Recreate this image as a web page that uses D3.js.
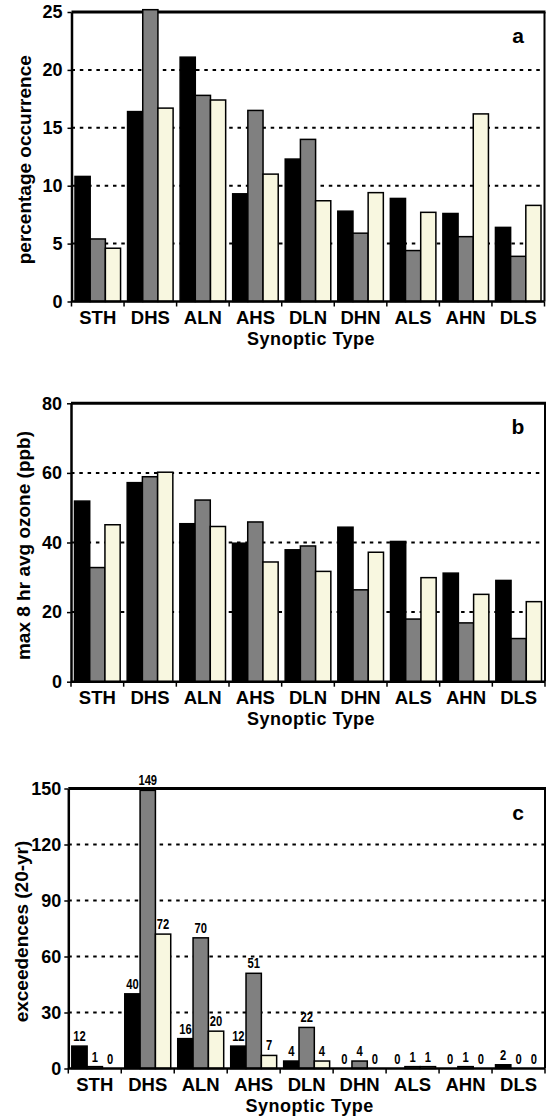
<!DOCTYPE html>
<html>
<head>
<meta charset="utf-8">
<script src="https://cdn.jsdelivr.net/npm/d3@7"></script>
<style>
  body { margin: 0; background: #fff; }
  svg text { font-family: "Liberation Sans", Arial, sans-serif; font-weight: bold; fill: #000; }
  .vlabel { font-size: 14px; }
</style>
</head>
<body>
<svg id="chart" width="547" height="1118"></svg>
<script>
const categories = ["STH", "DHS", "ALN", "AHS", "DLN", "DHN", "ALS", "AHN", "DLS"];

// panel a - percentage occurrence
const occBlack = [10.8, 16.4, 21.1, 9.3, 12.3, 7.8, 8.9, 7.6, 6.4];
const occGray = [5.4, 25.2, 17.8, 16.5, 14.0, 5.9, 4.4, 5.6, 3.9];
const occCream = [4.6, 16.7, 17.4, 11.0, 8.7, 9.4, 7.7, 16.2, 8.3];
const occTicks = [0, 5, 10, 15, 20, 25];

// panel b - max 8 hr avg ozone
const ozoneBlack = [51.9, 57.2, 45.4, 39.8, 37.9, 44.4, 40.3, 31.2, 29.1];
const ozoneGray = [32.8, 58.9, 52.2, 45.9, 39.0, 26.4, 18.0, 16.9, 12.4];
const ozoneCream = [45.1, 60.2, 44.6, 34.4, 31.7, 37.2, 29.9, 25.1, 23.0];
const ozoneTicks = [0, 20, 40, 60, 80];

// panel c - exceedences
const excBlack = [12, 40, 16, 12, 4, 0, 0, 0, 2];
const excGray = [1, 149, 70, 51, 22, 4, 1, 1, 0];
const excCream = [0, 72, 20, 7, 4, 0, 1, 0, 0];
const excTicks = [0, 30, 60, 90, 120, 150];

const barColors = ["#000000", "#808080", "#f8f7e0"];

const panels = [
  { letter: "a", title: "percentage occurrence", series: [occBlack, occGray, occCream], ticks: occTicks,
    top: 12, bottom: 301.5, left: 71.5, right: 544.5, tickGap: 5, titleX: 31, values: false },
  { letter: "b", title: "max 8 hr avg ozone (ppb)", series: [ozoneBlack, ozoneGray, ozoneCream], ticks: ozoneTicks,
    top: 403.3, bottom: 681.7, left: 71, right: 545, tickGap: 5, titleX: 30, values: false },
  { letter: "c", title: "exceedences (20-yr)", series: [excBlack, excGray, excCream], ticks: excTicks,
    top: 788.5, bottom: 1068.5, left: 68.3, right: 545, tickGap: 3, titleX: 28, values: true }
];

const svg = d3.select("#chart");

const drawPanel = (p) => {
  const g = svg.append("g");
  const x = d3.scaleBand().domain(categories).range([p.left, p.right]);
  const sub = d3.scaleBand().domain([0, 1, 2]).range([3.5, x.bandwidth() - 3.5]);
  const y = d3.scaleLinear().domain([0, d3.max(p.ticks)]).range([p.bottom, p.top]);

  // dashed gridlines
  g.selectAll(".grid")
    .data(p.ticks.slice(1, -1))
    .join("line")
    .attr("class", "grid")
    .attr("x1", p.left)
    .attr("x2", p.right)
    .attr("y1", (d) => y(d))
    .attr("y2", (d) => y(d))
    .attr("stroke", "#000")
    .attr("stroke-width", 2)
    .attr("stroke-dasharray", "3.5,4.8");

  // frame top + right
  g.append("line")
    .attr("x1", p.left).attr("x2", p.right + 1)
    .attr("y1", p.top).attr("y2", p.top)
    .attr("stroke", "#000").attr("stroke-width", 3);
  g.append("line")
    .attr("x1", p.right).attr("x2", p.right)
    .attr("y1", p.top).attr("y2", p.bottom)
    .attr("stroke", "#000").attr("stroke-width", 2);

  // bars
  p.series.forEach((vals, i) => {
    g.append("g")
      .selectAll("rect")
      .data(vals)
      .join("rect")
      .attr("x", (d, j) => x(categories[j]) + sub(i))
      .attr("width", sub.bandwidth())
      .attr("y", (d) => y(d))
      .attr("height", (d) => y(0) - y(d))
      .attr("fill", barColors[i])
      .attr("stroke", "#000")
      .attr("stroke-width", 1.5);

    if (p.values) {
      // condensed value labels (squeezed horizontally)
      g.append("g")
        .selectAll("text")
        .data(vals)
        .join("text")
        .attr("class", "vlabel")
        .attr("transform", (d, j) =>
          `translate(${x(categories[j]) + sub(i) + sub.bandwidth() / 2},${y(d) - 5}) scale(0.8,1)`)
        .attr("text-anchor", "middle")
        .text((d) => d);
    }
  });

  // y axis
  const yAxis = d3.axisLeft(y).tickValues(p.ticks).tickSize(4).tickSizeOuter(0).tickPadding(p.tickGap);
  const ya = g.append("g")
    .attr("transform", `translate(${p.left},0)`)
    .call(yAxis);
  ya.select(".domain").attr("stroke-width", 2.5);
  ya.selectAll(".tick line").attr("stroke-width", 1.5);
  ya.selectAll(".tick text").style("font-size", "18px");

  // x axis: labels centred, ticks on category boundaries
  const xAxis = d3.axisBottom(x).tickSize(0).tickSizeOuter(0).tickPadding(0);
  const xa = g.append("g")
    .attr("transform", `translate(0,${p.bottom})`)
    .call(xAxis);
  xa.select(".domain").attr("d", `M${p.left},0H${p.right}`).attr("stroke-width", 2.5);
  xa.selectAll(".tick text")
    .attr("y", 22.5)
    .attr("dy", 0)
    .style("font-size", "18.5px");
  xa.selectAll(".bound")
    .data(categories.map((c) => x(c)).concat([p.right]))
    .join("line")
    .attr("class", "bound")
    .attr("x1", (d) => d).attr("x2", (d) => d)
    .attr("y1", 0).attr("y2", 5)
    .attr("stroke", "#000").attr("stroke-width", 1.5);

  // titles
  g.append("text")
    .attr("x", (p.left + p.right) / 2 + 3)
    .attr("y", p.bottom + 43)
    .attr("text-anchor", "middle")
    .style("font-size", "18px")
    .style("letter-spacing", "0.5px")
    .text("Synoptic Type");

  g.append("text")
    .attr("transform", `translate(${p.titleX},${(p.top + p.bottom) / 2 + 3}) rotate(-90)`)
    .attr("text-anchor", "middle")
    .style("font-size", "19px")
    .text(p.title);

  g.append("text")
    .attr("x", 518)
    .attr("y", p.top + 31)
    .attr("text-anchor", "middle")
    .style("font-size", "21px")
    .text(p.letter);
};

panels.forEach(drawPanel);
</script>
</body>
</html>
